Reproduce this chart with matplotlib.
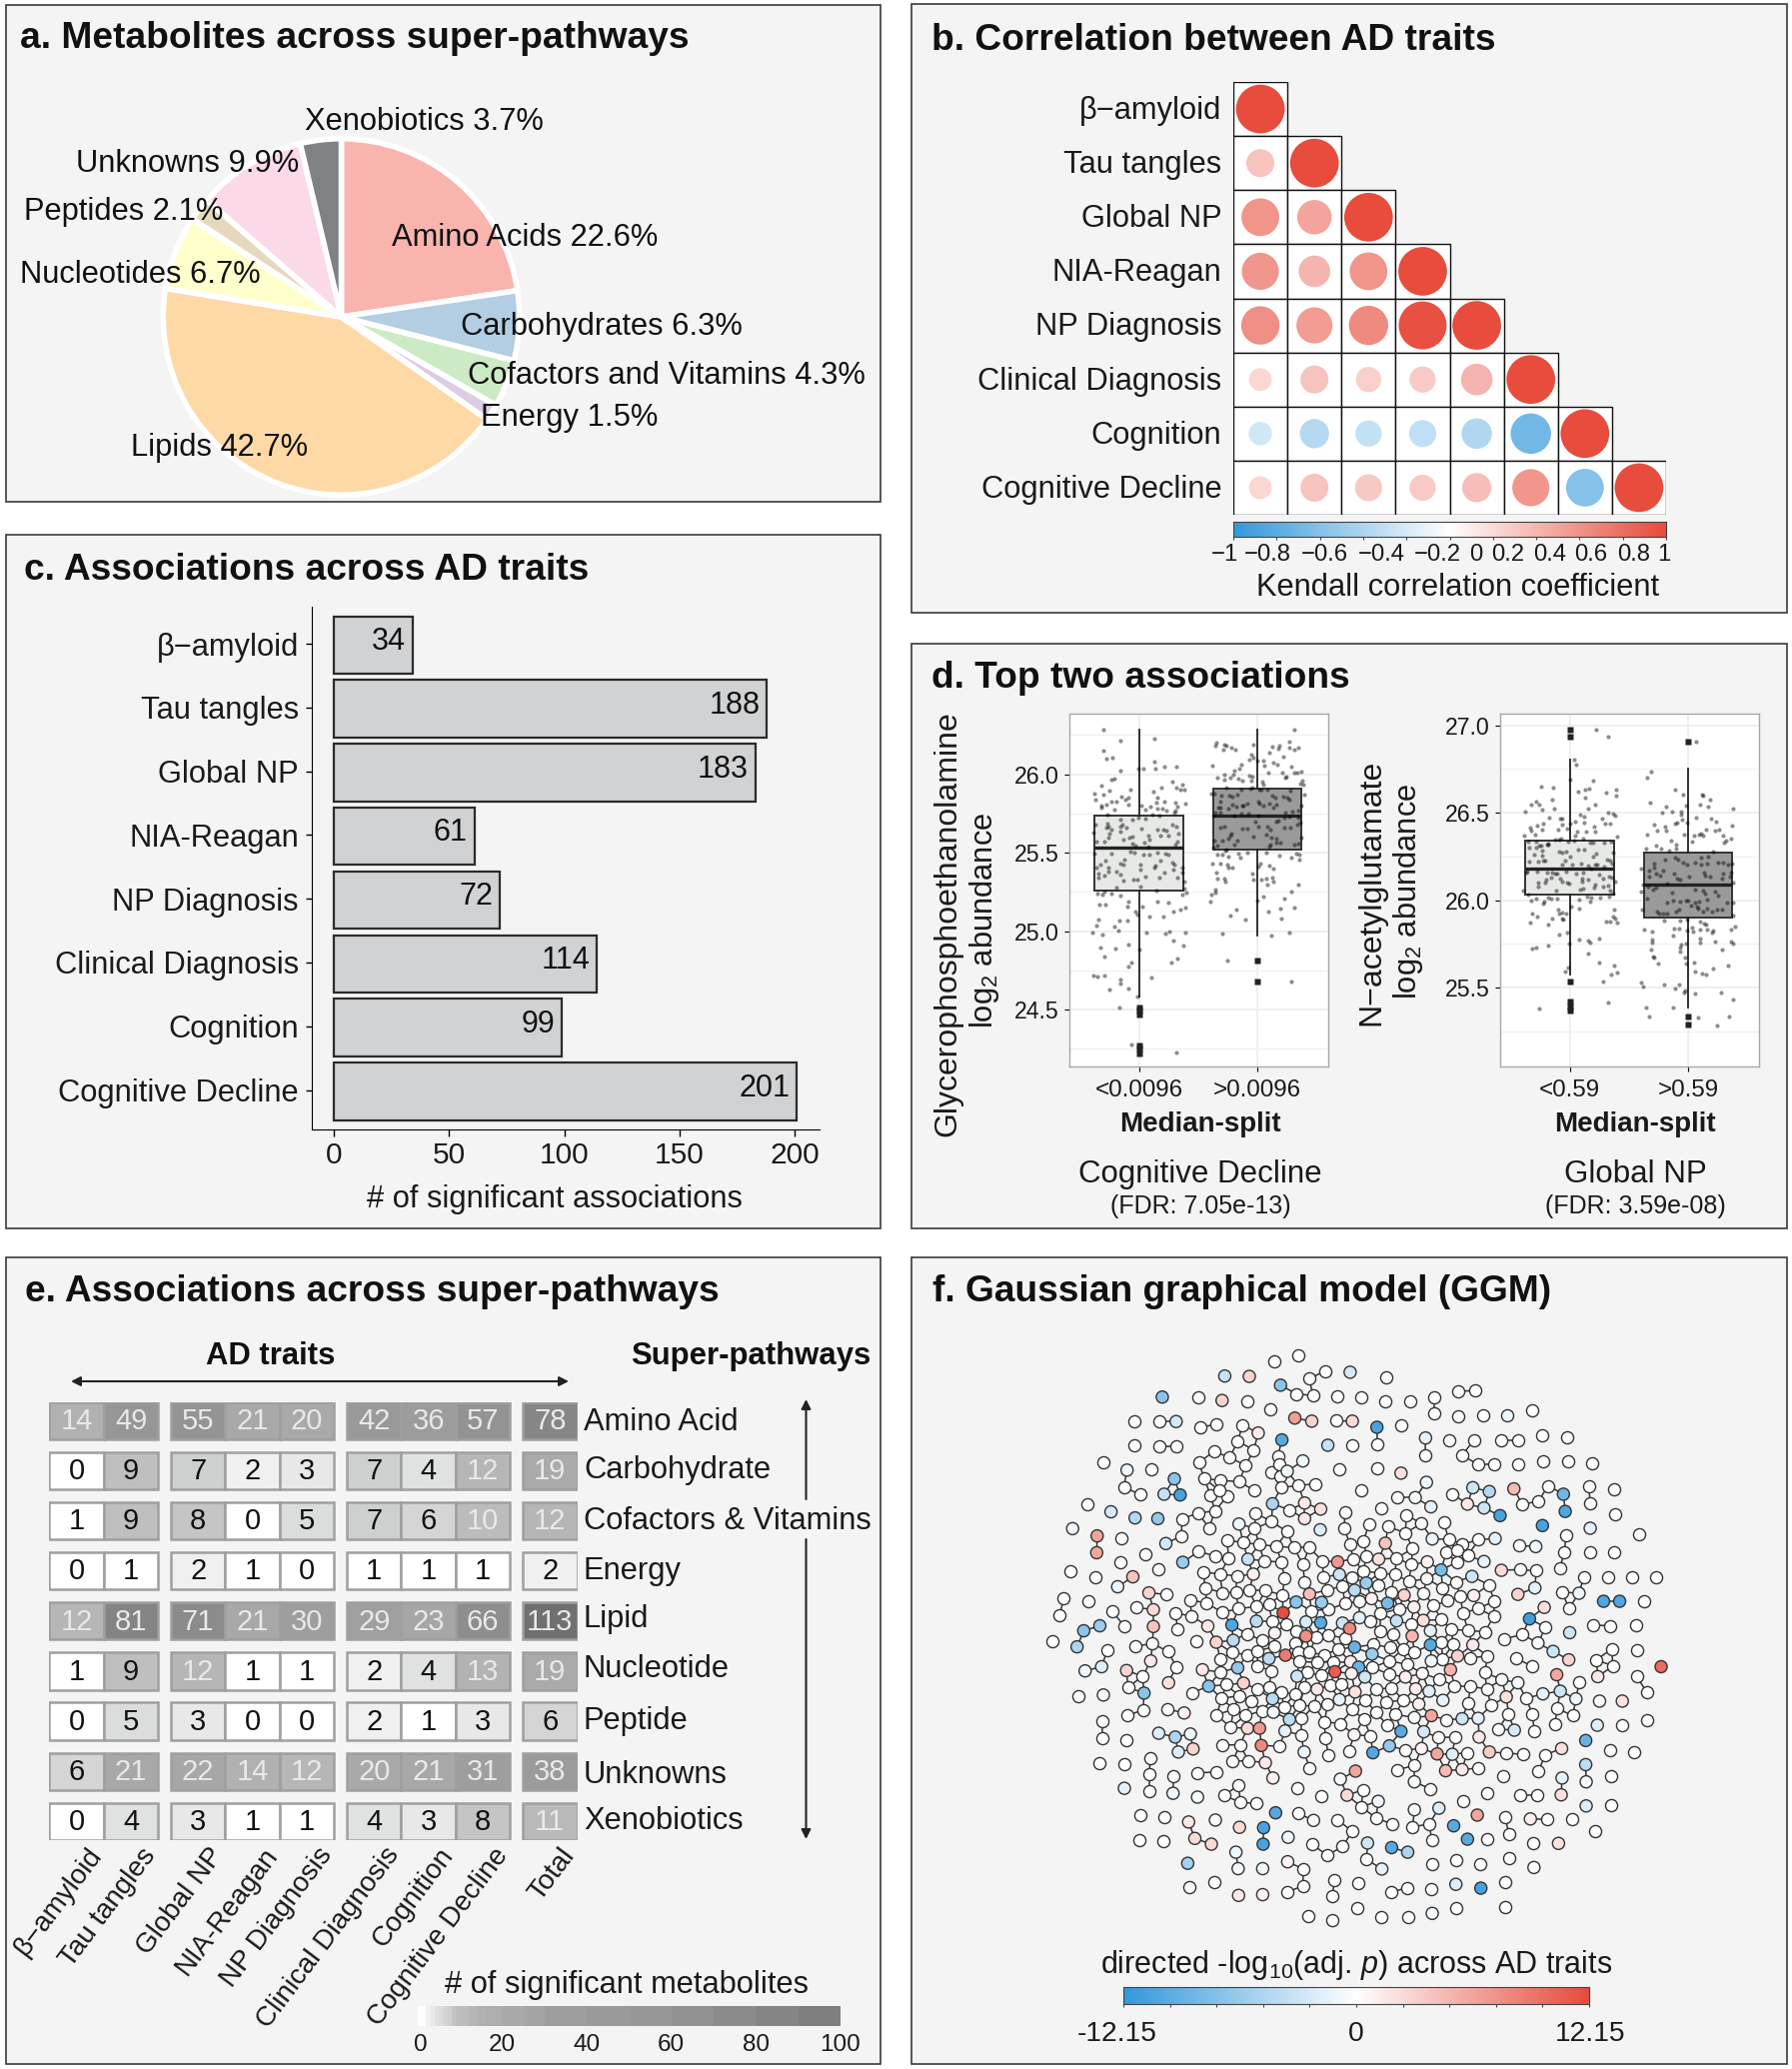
import numpy as np
import matplotlib
matplotlib.use("Agg")
import matplotlib.pyplot as plt
from matplotlib.colors import LinearSegmentedColormap
from matplotlib.patches import Rectangle, Circle
from matplotlib.collections import LineCollection

plt.rcParams['font.family'] = 'Liberation Sans'
plt.rcParams['mathtext.fontset'] = 'custom'
plt.rcParams['mathtext.rm'] = 'Liberation Sans'
plt.rcParams['mathtext.it'] = 'Liberation Sans:italic'
plt.rcParams['mathtext.bf'] = 'Liberation Sans:bold'
plt.rcParams['mathtext.default'] = 'regular'

W, H = 1793, 2070
BG = '#f4f4f4'
DARK = '#1a1a1a'

# a. pie
pie_labels = ['Amino Acids 22.6%', 'Carbohydrates 6.3%', 'Cofactors and Vitamins 4.3%', 'Energy 1.5%',
              'Lipids 42.7%', 'Nucleotides 6.7%', 'Peptides 2.1%', 'Unknowns 9.9%', 'Xenobiotics 3.7%']
pie_values = [22.6, 6.3, 4.3, 1.5, 42.7, 6.7, 2.1, 9.9, 3.7]
pie_colors = ['#f9b4ae', '#b3cde3', '#ccebc5', '#decbe4', '#fed9a6', '#ffffcc', '#e5d8bd', '#fbd9e8', '#808185']

# traits, shared by b, c and e
traits = ['\u03b2\u2212amyloid', 'Tau tangles', 'Global NP', 'NIA-Reagan', 'NP Diagnosis',
          'Clinical Diagnosis', 'Cognition', 'Cognitive Decline']

# b. lower triangle of Kendall correlations
corr_rows = [
    [1.0],
    [.33, 1.0],
    [.60, .50, 1.0],
    [.58, .42, .60, 1.0],
    [.62, .55, .65, .97, 1.0],
    [.22, .33, .27, .29, .42, 1.0],
    [-.23, -.36, -.29, -.31, -.39, -.69, 1.0],
    [.22, .33, .31, .29, .36, .58, -.60, 1.0],
]
corr_ticks = [-1, -.8, -.6, -.4, -.2, 0, .2, .4, .6, .8, 1]
corr_ticklabels = ['\u22121', '\u22120.8', '\u22120.6', '\u22120.4', '\u22120.2', '0', '0.2', '0.4', '0.6', '0.8', '1']

# c. number of significant associations
assoc_counts = [34, 188, 183, 61, 72, 114, 99, 201]

# d. box stats
cd_stats = [dict(q1=25.26, med=25.534, q3=25.738, whislo=24.585, whishi=26.283, fliers=[24.51, 24.49, 24.47, 24.27, 24.25, 24.22]),
            dict(q1=25.519, med=25.734, q3=25.909, whislo=24.974, whishi=26.283, fliers=[24.815, 24.68])]
np_stats = [dict(q1=26.029, med=26.181, q3=26.342, whislo=25.574, whishi=26.805, fliers=[26.977, 26.935, 25.532, 25.42, 25.39, 25.37]),
            dict(q1=25.899, med=26.088, q3=26.273, whislo=25.384, whishi=26.754, fliers=[26.905, 25.336, 25.288])]

# d. jittered samples (crop units), scaled to the ticks below
cd_low = [(131,60),(182,93),(133,124),(142,148),(158,146),(184,184),(155,210),(166,208),(127,229),(150,244),(106,252),(131,256),(108,271),(187,261),(214,241),(207,266),(200,270),(157,278),(171,278),(125,289),(140,287),(126,296),(165,300),(207,285),(239,178),(252,177),(285,88),(285,158),(289,177),(317,172),(353,171),(339,216),(370,226),(353,235),(364,240),(377,242),(308,234),(282,247),(294,264),(315,276),(293,281),(350,280),(380,283),(355,292),(350,305),(345,310),(246,288),(274,291),(259,302),(295,298),(309,299),(323,305),(280,315),
          (145,316),(107,345),(143,342),(184,330),(220,330),(238,325),(259,327),(300,318),(340,345),(147,352),(190,345),(183,352),(201,354),(140,355),(155,362),(182,366),(102,371),(248,358),(295,360),(313,362),(322,365),(351,353),(358,373),(150,372),(146,385),(212,385),(220,382),(267,378),(304,378),(327,378),(112,397),(135,398),(192,390),(270,390),(219,402),(256,400),(355,397),(348,405),(228,410),(267,413),(104,433),(157,432),(215,428),(225,431),(254,437),(272,437),(295,430),(318,434),(328,435),(182,462),(195,450),(193,467),(137,453),(122,466),(112,475),(243,467),(243,480),(146,474),(148,487),(172,487),(184,495),(118,492),(118,505),(134,498),(194,513),(224,510),(236,511),(260,503),(300,504),(316,490),(340,460),(347,465),(343,482),(370,475),(370,490),(355,505),(376,516),(290,470),(305,455),(285,475),(135,548),(155,552),(172,536),(183,558),(115,553),(128,555),(245,533),(291,543),(371,555),(382,550),(375,537),
          (207,578),(204,591),(120,586),(138,586),(295,576),(327,581),(251,592),(379,595),(365,602),(344,606),(230,607),(235,615),(270,621),(314,621),(117,631),(179,635),(206,635),(166,651),(176,662),(110,649),(100,669),(128,676),(263,669),(319,671),(331,665),(378,670),(343,692),(124,715),(168,717),(207,706),(372,708),(240,720),(134,741),(356,746),(336,759),(218,760),(209,771),(103,797),(115,801),(136,797),(182,809),(184,822),(277,805),(150,841),(208,837),(236,860),(180,893),(216,1006),(351,1028)]
cd_high = [(707,61),(692,98),(472,100),(470,108),(497,107),(503,108),(518,114),(530,121),(493,122),(584,106),(640,111),(661,108),(658,119),(692,115),(706,120),(718,115),(633,131),(674,141),(578,135),(573,150),(583,145),(595,155),(615,153),(644,160),(655,167),(617,168),(461,169),(549,166),(543,178),(526,185),(698,173),(629,190),(672,189),(706,190),(716,190),(727,186),(683,203),(680,205),(498,197),(475,205),(497,210),(516,204),(525,195),(540,207),(552,214),(572,200),(580,202),(578,215),(611,217),(615,225),(730,215),(733,227),(726,222),
           (502,236),(548,240),(575,237),(582,236),(603,241),(607,241),(625,240),(695,245),(456,252),(466,254),(487,258),(512,258),(520,263),(537,255),(640,258),(650,266),(674,263),(687,264),(738,257),(653,285),(486,276),(600,278),(602,283),(566,283),(554,290),(534,292),(521,285),(508,297),(477,295),(484,295),(469,309),(485,310),(551,290),(614,290),(631,282),(645,295),(693,272),(729,288),(719,303),(702,306),(680,310),(464,320),(526,320),(548,312),(570,312),(600,320),(660,335),(652,338),(676,326),(692,322),(720,325),(725,340),(485,355),(498,352),(550,358),(567,358),(590,338),(600,352),(625,352),(634,362),(677,355),(694,355),(716,345),(515,378),(518,373),(510,388),(490,395),(465,393),(537,395),(584,382),(624,375),(637,385),(653,387),(652,400),(666,400),(727,385),(720,403),(708,405),(634,405),(632,412),(503,420),(527,405),(476,410),(462,414),
           (475,437),(490,437),(510,441),(500,425),(538,432),(545,444),(565,430),(622,430),(662,438),(697,445),(713,432),(721,436),(722,451),(606,462),(460,464),(484,464),(507,467),(510,476),(522,475),(598,473),(633,469),(643,478),(471,490),(582,492),(475,508),(496,508),(500,517),(585,510),(608,510),(623,508),(640,505),(645,516),(625,527),(719,525),(469,541),(468,549),(458,556),(455,576),(596,574),(615,561),(698,548),(678,569),(534,600),(515,618),(559,630),(629,606),(666,597),(706,595),(669,627),(491,671),(693,670),(639,677),(507,753),(698,815)]
np_low = [(309,61),(344,82),(243,150),(247,167),(231,211),(299,213),(142,232),(178,236),(275,240),(287,239),(254,247),(369,241),(339,250),(368,258),(276,264),(177,270),(129,276),(113,287),(137,287),(146,302),(182,297),(94,307),(306,285),(285,299),(345,310),(360,312),(365,318),(259,317),(272,321),(168,325),(200,328),(206,327),(326,328),(131,348),(150,342),(207,345),(244,337),(271,339),(335,343),(351,342),(109,355),(112,363),(145,362),(193,361),(220,358),(231,344),(250,367),(277,367),(305,368),(302,352),(93,380),(125,376),(184,390),(196,390),(204,388),(246,378),(268,388),(370,383),
          (105,397),(128,398),(137,408),(160,405),(163,405),(143,410),(107,413),(127,413),(163,403),(225,396),(243,395),(291,401),(300,400),(332,400),(353,396),(273,420),(254,420),(145,424),(196,425),(217,425),(205,428),(122,434),(147,437),(358,430),(307,432),(300,440),(230,442),(215,452),(148,453),(155,453),(135,455),(342,450),(350,452),(106,456),(205,465),(237,465),(262,463),(283,467),(305,466),(310,466),(333,470),(357,462),(97,490),(100,485),(130,487),(160,490),(176,489),(185,493),(190,493),(217,486),(247,493),(270,489),(292,478),(317,495),(347,502),(355,503),(173,505),(158,510),(155,520),(135,520),(135,530),(200,508),(205,516),(220,520),(228,522),(265,508),(265,515),(285,510),(305,525),(328,508),(329,530),(365,515),(345,528),(188,542),(90,543),(103,555),(260,540),(270,538),(302,533),(350,543),(358,553),
          (112,573),(127,568),(152,575),(148,583),(165,565),(172,568),(190,566),(256,570),(281,562),(292,565),(319,565),(348,560),(290,577),(233,590),(257,596),(195,601),(196,612),(205,610),(217,611),(362,600),(117,612),(132,620),(176,628),(205,628),(210,630),(109,640),(163,645),(337,636),(349,636),(358,620),(365,628),(370,638),(221,669),(197,676),(258,689),(283,693),(289,700),(317,688),(226,702),(127,713),(115,716),(163,708),(285,731),(318,760),(363,767),(225,775),(215,785),(370,788),(352,795),(329,817),(345,880),(137,897)]
np_high = [(608,98),(474,187),(460,205),(544,241),(569,256),(626,255),(630,258),(650,270),(470,279),(621,287),(644,291),(720,297),(518,293),(506,310),(535,307),(563,307),(563,317),(578,290),(608,325),(654,328),(668,338),(482,345),(514,353),(545,343),(552,340),(567,332),(581,340),(715,350),(637,362),(664,365),(678,360),(490,364),(517,363),(460,375),(573,375),(603,378),(617,376),(622,372),(630,378),(688,378),(712,388),(698,395),(693,401),(595,398),(532,393),(547,406),(549,416),(458,416),(488,410),(503,417),(528,422),
           (660,425),(622,445),(643,440),(515,450),(545,445),(555,450),(568,460),(582,465),(605,460),(623,465),(640,463),(675,458),(690,460),(705,465),(716,462),(483,463),(482,475),(443,477),(467,483),(510,484),(466,500),(488,492),(500,498),(541,492),(586,500),(632,490),(636,497),(690,492),(714,490),(710,502),(552,508),(560,510),(650,500),(685,508),(720,520),(448,525),(520,522),(463,530),(480,540),(488,535),(535,548),(605,540),(630,542),(635,552),(666,545),(675,557),(444,545),(462,568),(540,572),(520,580),(578,572),(583,572),(560,575),(605,578),(618,576),(640,570),(702,578),(720,580),(447,600),(492,605),(497,612),(510,612),(522,612),(547,607),(558,600),(592,588),(610,592),(615,597),(630,605),(640,597),(655,605),(670,600),(685,600),(720,618),(512,632),(560,632),
           (582,630),(620,635),(633,642),(638,645),(452,660),(476,666),(541,657),(556,657),(582,663),(596,655),(598,666),(620,660),(640,660),(660,663),(655,670),(714,660),(725,652),(538,678),(476,690),(476,700),(564,704),(578,703),(619,687),(619,698),(665,695),(712,697),(718,701),(472,719),(560,715),(560,726),(685,720),(478,741),(483,743),(575,743),(494,763),(578,761),(602,758),(660,778),(705,768),(605,786),(625,793),(638,796),(443,818),(450,832),(513,825),(545,836),(558,825),(575,842),(572,850),(606,852),(684,848),(720,870),(459,895),(538,895),(467,920),(613,924),(708,920),(672,947)]

# e. counts per super-pathway, columns follow traits then Total
pathways = ['Amino Acid', 'Carbohydrate', 'Cofactors & Vitamins', 'Energy', 'Lipid', 'Nucleotide', 'Peptide', 'Unknowns', 'Xenobiotics']
path_counts = [[14, 49, 55, 21, 20, 42, 36, 57, 78],
               [0, 9, 7, 2, 3, 7, 4, 12, 19],
               [1, 9, 8, 0, 5, 7, 6, 10, 12],
               [0, 1, 2, 1, 0, 1, 1, 1, 2],
               [12, 81, 71, 21, 30, 29, 23, 66, 113],
               [1, 9, 12, 1, 1, 2, 4, 13, 19],
               [0, 5, 3, 0, 0, 2, 1, 3, 6],
               [6, 21, 22, 14, 12, 20, 21, 31, 38],
               [0, 4, 3, 1, 1, 4, 3, 8, 11]]
count_ticks = [0, 20, 40, 60, 80, 100]

# f. GGM nodes digitised in crop units; white nodes have no signal, the others carry a directed value
white_nodes = [(669,67),(615,83),(730,109),(694,129),(866,125),(666,169),(703,173),(445,178),(555,187),(758,176),(811,177),(865,188),(920,188),(975,177),(1029,162),(1067,160),(608,210),(975,220),(1193,212),(1029,227),(1084,226),(303,240),(358,240),(450,255),(487,249),(754,239),(901,251),(545,250),(1217,276),(1272,282),(1009,290),(1063,290),(1125,290),(1162,290),(534,293),(303,304),(358,305),(396,305),(791,304),(847,300),(570,315),(481,319),(1037,329),(954,328),(516,335),(624,332),(447,348),(552,356),(1072,353),(1108,353),(1163,354),(1218,346),(1274,346),(1329,349),(232,347),(340,367),(610,374),(627,352),(762,367),(846,363),(630,385),(459,390),(496,395),(279,412),(315,432),(537,398),(571,421),(708,404),(670,408),(631,414),(473,433),(510,437),(492,420),(1321,411),(1378,419),(1230,409),(1015,430),(1172,458),(1208,449),(1324,456),(196,458),(892,440),(810,420),(856,468),(650,472),(483,475),(445,480),(574,480),(774,477),(912,485),(1379,484),(409,496),(470,519),(610,503),(645,529),(572,520),(773,521),(828,509),(871,516),(996,505),(910,532),(1433,535),(408,540),(273,545),(510,552),(546,557),(582,563),(621,567),(660,571),(694,571),(786,563),(816,554),(926,573),(1007,549),(1074,550),(1038,562),(1270,538),(1165,565),(1266,582),(1324,583),(1378,583),(328,587),(446,581),(483,592),(514,598),(593,605),(632,609),(680,614),(724,605),(793,600),(823,594),(890,598),(1001,584),(1025,578),(1050,591),(272,608),(356,626),(1025,609),(923,615),(160,633),(214,648),(456,634),(494,640),(532,645),(639,651),(684,660),(726,648),(815,632),(853,637),(886,641),(1166,628),(1203,631),(1256,625),(1310,647),(1365,647),(1418,647),(1472,647),(768,671),(918,659),(1023,660),(1097,668),(462,676),(500,689),(530,687),(560,683),(596,683),(634,694),(735,682),(850,670),(878,686),(950,689),(993,676),(1033,699),(1262,687),(374,693),(144,704),(199,711),(427,707),(464,716),(775,717),(807,711),(973,722),(1109,711),(1445,711),(604,718),(576,725),(307,727),(536,730),(699,736),(737,732),(854,743),(895,731),(1072,730),(1276,730),(395,742),(431,750),(500,740),(135,747),(253,737),(611,763),(642,772),(830,764),(1039,742),(1108,750),(990,759),(922,771),(279,775),(399,785),(665,790),(1330,773),(1368,775),(1426,774),(853,789),(1013,785),(1050,787),(1088,791),(882,798),(555,796),(738,799),(774,808),(709,805),(1172,798),(1224,779),(119,815),(305,828),(441,816),(590,814),(1132,809),(662,821),(617,829),(838,824),(991,818),(1017,824),(759,836),(876,832),(904,837),(378,842),(242,838),(1428,838),(521,845),(556,851),(579,841),(669,844),(729,851),(930,844),(1056,859),(1094,854),(1372,836),(495,862),(1159,861),(1338,864),(396,882),(578,880),(713,871),(748,869),(672,868),(836,884),(874,867),(914,876),(993,862),(1375,880),(1195,881),(494,896),(610,893),(690,897),(721,905),(874,902),(985,914),(1088,897),(1428,908),(321,907),(288,936),(508,929),(578,941),(604,935),(741,930),(767,929),(684,936),(631,948),(662,954),(844,941),(879,937),(1020,932),(1056,934),(1092,940),(1299,923),(178,959),(432,950),(537,958),(498,965),(565,971),(706,985),(735,981),(820,970),(866,975),(905,969),(1180,965),(1451,948),(1050,977),(525,993),(638,987),(672,983),(1102,983),(1250,991),(286,1010),(322,995),(377,993),(487,1008),(551,1010),(588,998),(791,994),(845,1002),(888,1007),(1141,1005),(1195,1006),(1285,1010),(230,1025),(677,1017),(817,1020),(729,1026),(764,1031),(868,1034),(1001,1021),(1245,1033),(1451,1022),(1395,1036),(518,1041),(1118,1045),(1198,1050),(285,1073),(231,1070),(676,1061),(832,1063),(983,1067),(1021,1066),(730,1070),(500,1087),(539,1086),(628,1090),(1368,1099),(1423,1106),(910,1100),(783,1103),(738,1113),(1048,1107),(1136,1108),(1173,1111),(1224,1112),(339,1120),(523,1129),(558,1128),(225,1133),(281,1136),(930,1140),(695,1147),(891,1152),(1074,1147),(485,1157),(443,1160),(1208,1154),(335,1164),(390,1168),(1129,1168),(1370,1169),(536,1192),(668,1200),(965,1201),(335,1207),(1092,1213),(503,1219),(540,1236),(575,1240),(722,1221),(815,1204),(1168,1217),(1206,1217),(811,1248),(1039,1234),(1370,1245),(369,1275),(315,1271),(669,1265),(758,1283),(844,1278),(880,1293),(963,1293),(926,1301),(1133,1275),(1227,1280),(1283,1281),(791,1312),(1142,1319),(1336,1312),(314,1335),(368,1338),(969,1335),(1092,1333),(701,1347),(769,1352),(1197,1344),(735,1375),(823,1386),(1023,1388),(969,1399),(1078,1397),(1143,1383),(681,1411),(426,1459),(481,1445),(750,1440),(804,1449),(644,1472),(680,1455),(747,1483),(877,1472),(914,1460),(968,1463),(1133,1445),(692,1535),(801,1513),(855,1537),(916,1537),(1024,1513),(1133,1510)]
tinted_nodes = [(505,122,-3.5),(560,123,3),(786,112,-2.5),(630,146,-7),(365,177,-7),(499,186,3),(662,232,6.5),(700,240,3),(791,240,2.5),(846,256,-11),(396,241,-2.5),(580,271,1.2),(633,289,-10),(736,303,-3.5),(955,284,-1.5),(1139,226,-1),(680,344,-1),(645,371,-0.8),(286,368,-1),(900,376,2),(392,391,-7),(369,431,-3.5),(405,433,-11),(957,400,-1),(1061,414,-3),(1098,424,-4.5),(1153,417,4.5),(1049,457,1.5),(1086,467,-3),(1122,487,-11),(1264,431,-8.5),(1268,476,-10.5),(684,454,1.5),(720,470,2),(684,495,1.5),(612,456,-5),(250,477,-2.5),(304,493,-4.5),(355,495,-6.5),(932,440,-.5),(967,464,-1.5),(164,521,-1),(219,540,6),(218,584,6),(537,509,-1),(719,524,-2),(1217,513,-11),(1324,520,-1.5),(946,508,.5),(970,548,-1),(1111,547,-1.5),(373,560,-2.5),(865,559,4),(1202,568,-1),(411,609,-6),(557,601,-3.5),(758,608,7),(850,601,2),(959,608,.8),(1086,607,-1.5),(1125,630,2.5),(990,629,-8),(569,640,1),(299,647,4),(762,641,-3),(791,650,-.7),(822,663,-6),(958,652,.5),(1059,646,-3),(265,673,-1.2),(335,689,3),(796,682,-4),(695,692,4.5),(907,695,3),(1162,693,3),(1200,676,-1.5),(1063,696,1),(1299,690,-1),(1354,711,-10.5),(1390,711,-10.5),(665,713,-7),(722,714,-6),(870,716,-8),(834,704,.8),(1005,710,-.7),(345,733,2.5),(929,726,1),(1221,727,2),(636,741,12),(1188,757,-11.5),(950,761,2),(576,763,-4),(720,767,-10),(687,765,-2.5),(769,768,-3),(807,754,-1.5),(890,762,-3.5),(345,777,4),(467,776,1.5),(521,773,-10.5),(785,782,8),(1278,793,-3),(966,788,-1.5),(189,788,-7),(225,775,-6),(617,794,.8),(687,802,7.5),(925,802,5),(174,830,-5),(486,818,3),(524,813,-4),(796,831,-9),(966,825,-10),(1061,825,1.5),(343,822,-.7),(1207,820,-.7),(695,845,.5),(1241,842,-3),(641,852,9),(835,849,-6),(1027,854,3),(1276,864,3),(604,861,-4),(339,867,1.5),(787,869,1),(229,882,-2),(534,885,-6.5),(805,883,-9),(968,867,-1),(192,893,-1),(455,890,1.5),(285,892,3),(752,895,11),(1011,890,5),(1249,903,6),(789,900,.8),(667,907,-3),(819,909,-3),(948,900,.5),(910,909,1),(1126,916,-.7),(1341,908,1.5),(1162,924,-.7),(379,924,2),(547,925,3),(712,941,1.5),(469,933,-7),(933,940,1),(324,951,-7),(233,956,-.5),(797,948,2),(963,946,-2),(1218,953,-1.5),(1257,946,-3),(1136,961,2),(940,980,1),(612,966,-4),(762,968,-1.5),(994,970,-1.5),(1292,966,-1),(1396,972,2),(1345,972,-.7),(414,1003,1),(614,1001,-.7),(650,1020,-4),(968,1010,6),(930,1015,-.5),(1037,1018,-3),(1073,1017,-1.5),(1340,1035,-2),(556,1043,2.5),(583,1043,7),(640,1050,-1.5),(1154,1048,-2.5),(900,1051,-10),(951,1052,-2.5),(357,1056,-2),(394,1066,-5),(428,1058,-1),(795,1060,.5),(1075,1066,1.5),(1314,1075,-9),(587,1088,8),(874,1089,-6.5),(434,1097,3),(401,1105,-2),(683,1105,-1),(837,1107,-10.5),(946,1096,.8),(981,1110,6),(1098,1105,3.5),(1260,1096,2),(1015,1111,-2),(596,1133,1.5),(1314,1138,-4),(798,1155,6),(1000,1154,4.5),(1037,1151,1.5),(613,1173,1),(764,1176,-.7),(1261,1173,-1.5),(1315,1183,-.7),(280,1200,-1.5),(389,1213,-1),(444,1223,-.5),(930,1183,-.5),(1259,1217,2),(779,1218,2.5),(849,1234,-1),(1315,1246,-2),(985,1252,-2),(930,1256,-.5),(619,1264,-10),(704,1284,-.7),(1071,1270,6),(484,1283,-.5),(424,1288,1.5),(1190,1280,1),(592,1303,-11),(1018,1298,-10),(538,1302,2.5),(1049,1333,-10),(438,1331,2.5),(647,1328,-1),(475,1346,2.5),(591,1346,-11),(825,1343,-3),(1253,1344,2),(879,1355,-10),(915,1367,-5),(530,1367,-1),(646,1392,.7),(422,1396,-5.5),(535,1410,-.7),(590,1410,-1),(857,1411,-1.5),(1198,1407,-.5),(1023,1451,-2),(1079,1461,-11),(536,1480,1.5),(590,1478,1),(970,1527,-.7),(747,1546,-.5),(1483,882,10)]
ggm_range = 12.15

fig = plt.figure(figsize=(W / 100, H / 100), dpi=100, facecolor='white')


def ax_px(x0, y0, x1, y1, **kw):
    return fig.add_axes([x0 / W, 1 - y1 / H, (x1 - x0) / W, (y1 - y0) / H], **kw)


# page layer holds the panel frames, top layer holds the free text
page = ax_px(0, 0, W, H, zorder=0)
page.set_xlim(0, W)
page.set_ylim(H, 0)
page.axis('off')
top = ax_px(0, 0, W, H, zorder=10)
top.set_xlim(0, W)
top.set_ylim(H, 0)
top.axis('off')
top.patch.set_alpha(0)


def label(x, y, s, size=22.2, ha='left', va='center', **kw):
    top.text(x, y, s, fontsize=size, ha=ha, va=va, color=kw.pop('color', DARK), **kw)


panels = [(6, 5, 881, 502, 'a. Metabolites across super-pathways', 20, 39),
          (912, 4, 1788, 613, 'b. Correlation between AD traits', 932, 41),
          (6, 535, 881, 1229, 'c. Associations across AD traits', 24, 570),
          (912, 644, 1788, 1229, 'd. Top two associations', 932, 678),
          (6, 1258, 881, 2065, 'e. Associations across super-pathways', 25, 1293),
          (912, 1258, 1788, 2065, 'f. Gaussian graphical model (GGM)', 933, 1293)]
for x0, y0, x1, y1, title, tx, ty in panels:
    page.add_patch(Rectangle((x0, y0), x1 - x0, y1 - y0, fc=BG, ec='#3a3a3a', lw=1.2))
    label(tx, ty, title, size=26.7, fontweight='bold', color='#111111')

# a. pie
ax = ax_px(161.5, 137, 521.5, 497, zorder=2)
ax.pie(pie_values, colors=pie_colors, startangle=90, counterclock=False,
       wedgeprops=dict(edgecolor='white', linewidth=4))
ax.set_xlim(-1.01, 1.01)
ax.set_ylim(-1.01, 1.01)
pie_label_pos = [(392, 238), (461, 327), (468, 376), (481, 418), (131, 448), (20, 275), (24, 212), (76, 164), (305, 122)]
for s, (x, y) in zip(pie_labels, pie_label_pos):
    label(x, y, s, color='#111111')

# b. correlation triangle
red_blue = LinearSegmentedColormap.from_list('rb', ['#3498db', '#ffffff', '#e74c3c'])
ax = ax_px(1234, 82, 1667, 515, zorder=2)
ax.set_xlim(0, 8)
ax.set_ylim(8, 0)
ax.patch.set_alpha(0)
for r, row in enumerate(corr_rows):
    for c, val in enumerate(row):
        ax.add_patch(Rectangle((c, r), 1, 1, fc='white', ec='#111111', lw=1))
        ax.add_patch(Circle((c + .5, r + .5), .45 * abs(val) ** .5, fc=red_blue((val + 1) / 2), ec='none', zorder=3))
for s in ax.spines.values():
    s.set_visible(False)
ax.set_xticks([])
ax.set_yticks(np.arange(8) + .47, traits, fontsize=22.2, color=DARK)
ax.tick_params(axis='y', length=0, pad=8.5)

ax = ax_px(1234, 522, 1667, 537, zorder=2)
ax.imshow(np.linspace(-1, 1, 400).reshape(1, -1), cmap=red_blue, vmin=-1, vmax=1, aspect='auto', extent=[-1, 1, 0, 1])
ax.set_yticks([])
ax.set_xticks(corr_ticks, [''] * len(corr_ticks))
ax.tick_params(axis='x', length=2.5, width=.8, color='#444444')
for s in ax.spines.values():
    s.set_linewidth(.8)
    s.set_color('#444444')
corr_label_x = [1225, 1268, 1325, 1382, 1438, 1477, 1509, 1551, 1592, 1635, 1665]
for x, s in zip(corr_label_x, corr_ticklabels):
    label(x, 555, s, size=17.2, ha='center')
label(1459, 588, 'Kendall correlation coefficient', ha='center')

# c. bars
ax = ax_px(311.5, 607, 819.5, 1129.5, zorder=2)
ax.patch.set_alpha(0)
ax.barh(np.arange(8), assoc_counts, height=.9, color='#d1d2d4', edgecolor='#2b2b2b', linewidth=1.6)
for i, v in enumerate(assoc_counts):
    ax.text(v - 3, i - .05, str(v), ha='right', va='center', fontsize=22, color='#111111')
ax.set_xlim(-9.85, 210.6)
ax.set_ylim(7.59, -.6)
ax.set_yticks(np.arange(8) - .02, traits, fontsize=22.2, color=DARK)
ax.set_xticks([0, 50, 100, 150, 200])
ax.tick_params(axis='x', labelsize=21.5, labelcolor=DARK, length=5, width=1, pad=4)
ax.tick_params(axis='y', length=4, width=1, pad=5)
ax.spines[['top', 'right']].set_visible(False)
label(555, 1200, '# of significant associations', ha='center')


# d. box plots
def box_panel(rect, stats, low, high, cats, to_x, to_y, ylim, yticks, yminor):
    ax = ax_px(*rect, zorder=2)
    ax.set_facecolor('white')
    ax.set_axisbelow(True)
    ax.bxp(stats, positions=[1, 2], widths=.75, patch_artist=True, showcaps=False,
           boxprops=dict(linewidth=1.4, edgecolor='#333333'),
           medianprops=dict(color='#222222', linewidth=2.4),
           whiskerprops=dict(color='#222222', linewidth=1.3),
           flierprops=dict(marker='s', markersize=4, markerfacecolor='#222222', markeredgecolor='none'))
    ax.patches[0].set_facecolor('#e7e9e7')
    ax.patches[1].set_facecolor('#9a9a9a')
    for i, pts in enumerate([low, high]):
        p = np.array(pts, float)
        ax.scatter(i + 1 + (p[:, 0] - to_x[i]) / to_x[2], to_y[0] - (p[:, 1] - to_y[1]) / to_y[2],
                   s=9, c='black', alpha=.45, linewidths=0, zorder=4)
    ax.set_xlim(.41, 2.6)
    ax.set_ylim(*ylim)
    ax.set_xticks([1, 2], cats, fontsize=17.4, color=DARK)
    ax.set_yticks(yticks, ['%.1f' % t for t in yticks], fontsize=16.7, color=DARK)
    ax.set_yticks(yminor, minor=True)
    ax.grid(True, which='major', color='#ececec', lw=1.2)
    ax.grid(True, which='minor', axis='y', color='#f2f2f2', lw=1)
    ax.tick_params(which='minor', length=0)
    ax.tick_params(axis='y', which='major', length=3.5, width=.8, pad=4)
    ax.tick_params(axis='x', which='major', length=3.5, width=.8, pad=6)
    for s in ax.spines.values():
        s.set_color('#a8a8a8')
        s.set_linewidth(1)
    return ax


box_panel((1070, 714, 1329, 1067), cd_stats, cd_low, cd_high, ['<0.0096', '>0.0096'],
          (240, 596, 356), (26.0, 195, 470), (24.136, 26.387), [24.5, 25.0, 25.5, 26.0], [24.25, 24.75, 25.25, 25.75, 26.25])
box_panel((1501, 714, 1760, 1067), np_stats, np_low, np_high, ['<0.59', '>0.59'],
          (229, 584, 355), (27.0, 48, 524), (25.048, 27.067), [25.5, 26.0, 26.5, 27.0], [25.25, 25.75, 26.25, 26.75])

label(948, 924, 'Glycerophosphoethanolamine', size=23, ha='center', rotation=90)
label(985, 921, 'log$_2$ abundance', ha='center', rotation=90)
label(1372, 893, 'N\u2212acetylglutamate', size=23, ha='center', rotation=90)
label(1409, 892, 'log$_2$ abundance', ha='center', rotation=90)
label(1201, 1125, 'Median-split', size=20, ha='center', fontweight='bold')
label(1636, 1125, 'Median-split', size=20, ha='center', fontweight='bold')
label(1201, 1175, 'Cognitive Decline', ha='center', size=22.5)
label(1636, 1175, 'Global NP', ha='center', size=22.5)
label(1201, 1207, '(FDR: 7.05e-13)', ha='center', size=18)
label(1636, 1207, '(FDR: 3.59e-08)', ha='center', size=18)

# e. tile grid
grey_scale = LinearSegmentedColormap.from_list('counts', [(0, '#ffffff'), (1 / 113, '#ffffff'), (2 / 113, '#ececec'), (5 / 113, '#dadbdb'),
                                                          (9 / 113, '#bebebe'), (14 / 113, '#b0b0b0'), (30 / 113, '#9e9e9e'),
                                                          (60 / 113, '#929292'), (80 / 113, '#858585'), (1, '#707070')])
col_pos = [0, 1, 2.23, 3.23, 4.23, 5.46, 6.46, 7.46, 8.69]
ax = ax_px(49.4, 1402.5, 577.5, 1841, zorder=2)
ax.patch.set_alpha(0)
ax.set_xlim(0, 9.69)
ax.set_ylim(8.745, 0)
ax.axis('off')
for r, row in enumerate(path_counts):
    for c, val in zip(col_pos, row):
        ax.add_patch(Rectangle((c, r), 1, .745, fc=grey_scale(val / 113), ec='#9f9f9f', lw=1.8))
        ax.text(c + .5, r + .39, str(val), ha='center', va='center', fontsize=21,
                color='#e9e9e9' if val >= 10 else '#111111')
for c, s in zip(col_pos, traits + ['Total']):
    ax.text(c + .68, 8.8, s, rotation=53, rotation_mode='anchor', ha='right', va='top', fontsize=20, color=DARK, clip_on=False)
path_label_y = [1423, 1471, 1522, 1572, 1620, 1670, 1722, 1776, 1822]
for y, s in zip(path_label_y, pathways):
    label(584, y, s)

label(271, 1357, 'AD traits', size=22.3, ha='center', fontweight='bold', color='#111111')
label(751, 1357, 'Super-pathways', size=22.4, ha='center', fontweight='bold', color='#111111')
arrow = dict(arrowstyle='<|-|>,head_width=.28,head_length=.55', color='#222222', lw=1.5, shrinkA=0, shrinkB=0)
top.annotate('', xy=(71, 1382), xytext=(569, 1382), arrowprops=arrow)
top.annotate('', xy=(806.5, 1400), xytext=(806.5, 1500), arrowprops=dict(arrow, arrowstyle='-|>,head_width=.28,head_length=.55'))
top.annotate('', xy=(806.5, 1840), xytext=(806.5, 1540), arrowprops=dict(arrow, arrowstyle='-|>,head_width=.28,head_length=.55'))

legend_edges = np.array([0, 1, 2, 3, 4, 5, 6, 7, 8, 9, 10, 12, 14, 16, 20, 25, 30, 40, 50, 60, 70, 80, 90, 100])
ax = ax_px(418, 2007, 841, 2027, zorder=2)
ax.pcolormesh(legend_edges, [0, 1], legend_edges[:-1].reshape(1, -1), cmap=grey_scale, vmin=0, vmax=113)
ax.axis('off')
for t in count_ticks:
    label(418 + t * 4.23 + (3 if t == 0 else 0), 2046, str(t), size=17.5, ha='center')
label(627, 1986, '# of significant metabolites', size=22.2, ha='center')

# f. network, links join digitised neighbours closer than one node spacing
white = np.array(white_nodes, float)
tinted = np.array(tinted_nodes, float)
xy = np.vstack([white, tinted[:, :2]])
scale = np.array([700 / 1568, 600 / 1568])
gap = (xy[:, None, :] - xy[None, :, :]) * scale
i, j = np.where(np.triu(np.hypot(gap[..., 0], gap[..., 1]) < 19, 1))
ax = ax_px(1000, 1330, 1700, 1930, zorder=2)
ax.patch.set_alpha(0)
ax.set_xlim(0, 1568)
ax.set_ylim(1568, 0)
ax.axis('off')
ax.add_collection(LineCollection(np.stack([xy[i], xy[j]], axis=1), colors='#333333', linewidths=1.1, zorder=1))
ax.scatter(white[:, 0], white[:, 1], s=76, c='white', edgecolors='#333333', linewidths=1.0, zorder=2)
ax.scatter(tinted[:, 0], tinted[:, 1], s=76, c=tinted[:, 2], cmap=red_blue, vmin=-ggm_range, vmax=ggm_range,
           edgecolors='#333333', linewidths=1.0, zorder=3)

label(1357, 1966, 'directed -log$_{10}$(adj. $\\mathit{p}$) across AD traits', ha='center', size=22)
ax = ax_px(1124, 1988, 1590, 2005, zorder=2)
ax.imshow(np.linspace(-ggm_range, ggm_range, 400).reshape(1, -1), cmap=red_blue, vmin=-ggm_range, vmax=ggm_range, aspect='auto',
          extent=[-ggm_range, ggm_range, 0, 1])
ax.set_yticks([])
ax.set_xticks(np.arange(-5, 6) * ggm_range / 5, [''] * 11)
ax.tick_params(axis='x', length=2.5, width=.8, color='#444444')
for s in ax.spines.values():
    s.set_linewidth(.8)
    s.set_color('#444444')
label(1118, 2035, '-12.15', size=20.3, ha='center')
label(1357, 2035, '0', size=20.3, ha='center')
label(1591, 2035, '12.15', size=20.3, ha='center')

fig.savefig('out.png', dpi=100, facecolor='white')
